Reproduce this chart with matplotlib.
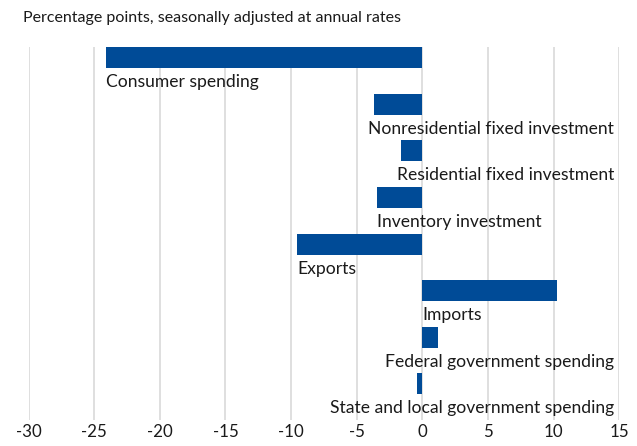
import matplotlib
matplotlib.use("Agg")
import matplotlib.pyplot as plt

categories = [
    "Consumer spending",
    "Nonresidential fixed investment",
    "Residential fixed investment",
    "Inventory investment",
    "Exports",
    "Imports",
    "Federal government spending",
    "State and local government spending",
]
values = [-24.1, -3.67, -1.6, -3.49, -9.54, 10.23, 1.22, -0.41]
x_ticks = [-30, -25, -20, -15, -10, -5, 0, 5, 10, 15]

BAR_COLOR = "#004b97"
FONT = "Lato"

fig = plt.figure(figsize=(6.37, 4.46), dpi=100)
ax = fig.add_axes([0.045, 0.058, 0.927, 0.8366])

xmin, xmax = -30, 15
ax.set_xlim(xmin, xmax)
ax.set_ylim(len(categories), 0)

for t in x_ticks:
    ax.axvline(t, color="#dcdcdc", lw=1.3, zorder=0)

bar_h = 0.45
for i, v in enumerate(values):
    ax.barh(i, v, height=bar_h, align="edge", color=BAR_COLOR, zorder=2)

fig.canvas.draw()
renderer = fig.canvas.get_renderer()
right_limit = 14.6
for i, (name, v) in enumerate(zip(categories, values)):
    x0 = min(v, 0)
    txt = ax.text(x0, i + 0.75, name, ha="left", va="center",
                  fontsize=12.6, family=FONT, color="#1a1a1a", zorder=3)
    bb = txt.get_window_extent(renderer=renderer)
    right_data = ax.transData.inverted().transform((bb.x1, bb.y0))[0]
    if right_data > right_limit:
        txt.set_x(right_limit)
        txt.set_ha("right")

ax.set_xticks(x_ticks)
ax.set_xticklabels([str(t) for t in x_ticks],
                   fontsize=12.2, family=FONT, color="#1a1a1a")
ax.tick_params(axis="x", length=0, pad=3)
ax.set_yticks([])
for s in ax.spines.values():
    s.set_visible(False)

fig.text(23 / 637, 1 - 18 / 446, "Percentage points, seasonally adjusted at annual rates",
         ha="left", va="center", fontsize=11.5, family=FONT, color="#1a1a1a")

fig.savefig("out.png", dpi=100)
